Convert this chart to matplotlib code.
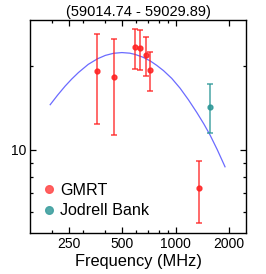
import matplotlib
matplotlib.use("Agg")
import matplotlib.pyplot as plt
from matplotlib.lines import Line2D
from matplotlib.ticker import FixedLocator, NullFormatter, FixedFormatter

plt.rcParams["font.family"] = ["Liberation Sans", "DejaVu Sans"]

# GMRT flux densities (mJy) with asymmetric errors
gmrt_freq = [361, 445, 590, 627, 678, 714, 1356]
gmrt_flux = [19.2, 18.2, 23.3, 23.1, 21.9, 19.3, 7.33]
gmrt_lo = [12.35, 11.34, 19.4, 19.3, 18.3, 16.2, 5.49]
gmrt_hi = [26.0, 24.9, 27.0, 26.7, 25.4, 22.4, 9.16]

# Jodrell Bank
jb_freq = [1558]
jb_flux = [14.28]
jb_lo = [11.47]
jb_hi = [17.2]

# fitted spectrum
fit_freq = [195, 215, 237, 258, 282, 320, 361, 400, 445, 496, 550, 590, 650,
            716, 780, 852, 950, 1059, 1180, 1316, 1440, 1564, 1720, 1901]
fit_flux = [14.5, 15.7, 16.9, 17.9, 18.9, 20.2, 21.15, 21.75, 22.13, 22.26,
            22.15, 21.92, 21.45, 20.8, 20.05, 19.2, 18.0, 16.6, 15.1, 13.6,
            12.4, 11.3, 10.0, 8.7]

title = "(59014.74 - 59029.89)"

fig = plt.figure(figsize=(2.66, 2.74), dpi=100)
ax = fig.add_axes([0.113, 0.150, 0.812, 0.777])

ax.plot(fit_freq, fit_flux, color="#6b6bff", lw=0.9, zorder=1)

gerr = [[f - l for f, l in zip(gmrt_flux, gmrt_lo)],
        [h - f for f, h in zip(gmrt_flux, gmrt_hi)]]
ax.errorbar(gmrt_freq, gmrt_flux, yerr=gerr, fmt="o", color="#ff2020",
            ms=3.5, elinewidth=1.1, capsize=2, capthick=1.1, alpha=0.85,
            zorder=3)
jerr = [[f - l for f, l in zip(jb_flux, jb_lo)],
        [h - f for f, h in zip(jb_flux, jb_hi)]]
ax.errorbar(jb_freq, jb_flux, yerr=jerr, fmt="o", color="#2a9696",
            ms=3.5, elinewidth=1.1, capsize=2, capthick=1.1, alpha=0.85,
            zorder=3)

ax.set_xscale("log")
ax.set_yscale("log")
ax.set_xlim(150, 2500)
ax.set_ylim(5.05, 29.1)

ax.xaxis.set_major_locator(FixedLocator([250, 500, 1000, 2000]))
ax.xaxis.set_major_formatter(FixedFormatter(["250", "500", "1000", "2000"]))
ax.xaxis.set_minor_locator(FixedLocator([200, 300, 400, 600, 700, 800, 900]))
ax.xaxis.set_minor_formatter(NullFormatter())
ax.yaxis.set_major_locator(FixedLocator([10]))
ax.yaxis.set_major_formatter(FixedFormatter(["10"]))
ax.yaxis.set_minor_locator(FixedLocator([6, 7, 8, 9, 20]))
ax.yaxis.set_minor_formatter(NullFormatter())

ax.tick_params(which="both", direction="in", top=True, right=True,
               labelsize=10, pad=3, width=0.9)
ax.tick_params(which="major", length=4.5)
ax.tick_params(which="minor", length=2.5)
for s in ax.spines.values():
    s.set_linewidth(1.0)

ax.set_xlabel("Frequency (MHz)", fontsize=11.8, labelpad=2)
ax.set_title(title, fontsize=10.5, pad=3)

handles = [
    Line2D([], [], ls="none", marker="o", ms=5.5, color="#ff5050", alpha=0.9),
    Line2D([], [], ls="none", marker="o", ms=5.5, color="#40a0a0", alpha=0.9),
]
ax.legend(handles, ["GMRT", "Jodrell Bank"], loc="lower left", frameon=False,
          fontsize=11.6, handlelength=0.6, handletextpad=0.35,
          labelspacing=0.35, borderaxespad=0.4, borderpad=0.5)

fig.savefig("out.png", dpi=100)
